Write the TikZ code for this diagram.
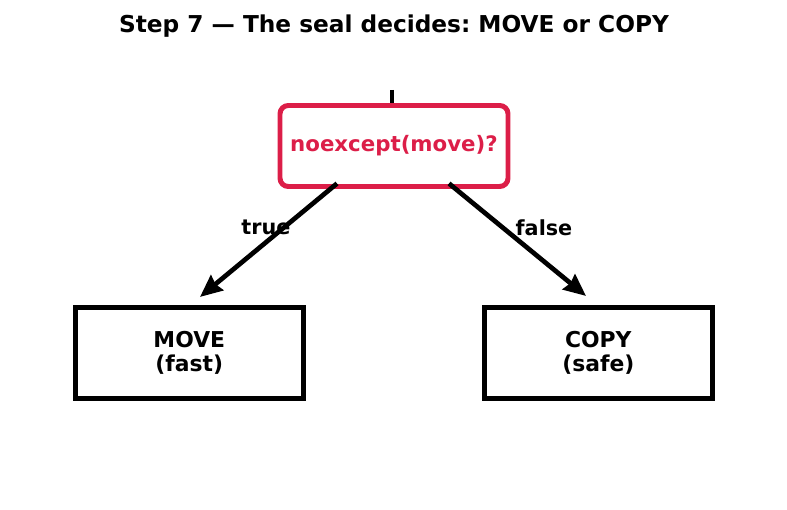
\documentclass[tikz,border=0pt]{standalone}
\usepackage{fontspec}
\setmainfont{DejaVu Sans}
\usepackage{tikz}
\usetikzlibrary{arrows.meta, positioning}
\frenchspacing
\definecolor{sealred}{RGB}{220,30,72}
\tikzstyle{decision} = [rectangle, rounded corners=6pt, minimum width=228*0.7227pt, minimum height=81*0.7227pt, text centered, draw=sealred, line width=3.6pt, text=sealred, font=\fontsize{15.4}{18}\selectfont\bfseries]
\tikzstyle{outcome} = [rectangle, minimum width=228*0.7227pt, minimum height=91*0.7227pt, align=center, draw=black, line width=3.4pt, font=\fontsize{15.8}{17.5}\selectfont\bfseries]
\tikzstyle{arrow} = [line width=3.4pt, -{Stealth[length=16pt, width=14pt, inset=1.5pt]}]
\tikzstyle{branch} = [font=\fontsize{15}{18}\selectfont\bfseries]

\begin{document}
\begin{tikzpicture}[x=0.7227pt, y=0.7227pt]
    \useasboundingbox (0,0) rectangle (787,510);
    % Title
    \node (T) at (394,484) {\fontsize{16.8}{20}\selectfont\bfseries Step 7 --- The seal decides: MOVE or COPY};

    % Nodes
    \node (D) [decision] at (394,364) {noexcept(move)?};
    \node (M) [outcome] at (189.3,157.2) {MOVE\\(fast)};
    \node (C) [outcome] at (598.3,157.2) {COPY\\(safe)};
    \coordinate (In) at (392,420);

    % Arrows
    \draw [line width=3pt] (In) -- (In |- D.north);
    \draw [arrow] ([xshift=-57*0.7227pt, yshift=5.5*0.7227pt]D.south) -- node [branch, xshift=-2.5*0.7227pt, yshift=12.5*0.7227pt] {true} ([xshift=10.7*0.7227pt, yshift=8*0.7227pt]M.north);
    \draw [arrow] ([xshift=55*0.7227pt, yshift=5.5*0.7227pt]D.south) -- node [branch, xshift=26.5*0.7227pt, yshift=12*0.7227pt] {false} ([xshift=-12.3*0.7227pt, yshift=9*0.7227pt]C.north);
\end{tikzpicture}
\end{document}
